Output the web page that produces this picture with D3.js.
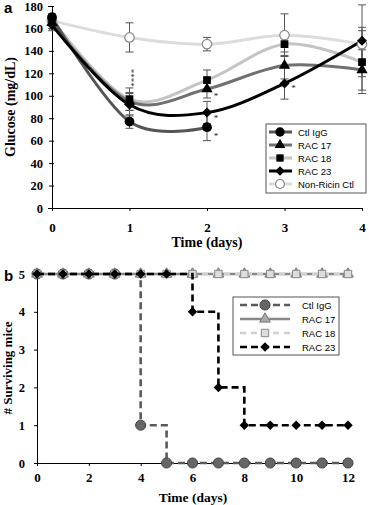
<!DOCTYPE html>
<html>
<head>
<meta charset="utf-8">
<script src="https://cdn.jsdelivr.net/npm/d3@7"></script>
<style>
  body { margin: 0; background: #fff; }
  .tick text { font-family: "Liberation Serif", serif; font-weight: bold; }
</style>
</head>
<body>
<div id="chart"></div>
<script>
// ---- panel a data: glucose ----
const daysA = [0, 1, 2, 3, 4];
const ctlIgG = [170, 77, 72];
const rac17 = [165, 95, 106, 127, 123];
const rac18 = [168, 97, 114, 146, 130];
const rac23 = [163, 92, 85, 111, 149];
const nonRicin = [167, 152, 146, 154, 146];
const errCtl = [3, 6, 12];
const err17 = [5, 8, 8, 12, 18];
const err18 = [4, 10, 9, 10, 28];
const err23 = [5, 10, 10, 14, 32];
const errNon = [3, 13, 6, 19, 15];
const yTicksA = [0, 20, 40, 60, 80, 100, 120, 140, 160, 180];
const xTicksA = [0, 1, 2, 3, 4];
// asterisks: [day, glucose, text]
const starsA = [[1.03, 116, "****"], [2.06, 101, "*"], [2.06, 81, "*"], [2.06, 65, "*"], [3.06, 108, "*"]];

// ---- panel b data: survival ----
const daysB = [0, 1, 2, 3, 4, 5, 6, 7, 8, 9, 10, 11, 12];
const survCtl = [5, 5, 5, 5, 1, 0, 0, 0, 0, 0, 0, 0, 0];
const surv17 = [5, 5, 5, 5, 5, 5, 5, 5, 5, 5, 5, 5, 5];
const surv18 = [5, 5, 5, 5, 5, 5, 5, 5, 5, 5, 5, 5, 5];
const surv23 = [5, 5, 5, 5, 5, 5, 4, 2, 1, 1, 1, 1, 1];
const yTicksB = [0, 1, 2, 3, 4, 5];
const xTicksB = [0, 2, 4, 6, 8, 10, 12];

const svg = d3.select("#chart").append("svg")
    .attr("width", 369).attr("height", 505);

const serif = '"Liberation Serif", "Times New Roman", serif';
const sans = '"Liberation Sans", Arial, sans-serif';

// symbol helper
function marker(g, type, x, y, opt) {
    let sym, rot = 0;
    if (type === "circle") sym = d3.symbolCircle;
    else if (type === "triangle") sym = d3.symbolTriangle;
    else if (type === "square") sym = d3.symbolSquare;
    else { sym = d3.symbolSquare; rot = 45; }
    g.append("path")
        .attr("d", d3.symbol().type(sym).size(opt.size)())
        .attr("transform", `translate(${x},${y}) rotate(${rot})`)
        .attr("fill", opt.fill)
        .attr("stroke", opt.stroke || "none")
        .attr("stroke-width", opt.sw || 1);
}

// =================== PANEL A ===================
const xA = d3.scaleLinear().domain([0, 4]).range([52, 362]);
const yA = d3.scaleLinear().domain([0, 180]).range([208, 6]);

const gA = svg.append("g");

gA.append("g")
    .attr("transform", `translate(0,${yA(0)})`)
    .call(d3.axisBottom(xA).tickValues(xTicksA).tickFormat(d3.format("d")).tickSize(3).tickPadding(12))
    .call(g => g.selectAll("text").attr("font-size", 13))
    .call(g => g.select(".domain").attr("stroke", "#000"));

gA.append("g")
    .attr("transform", `translate(${xA(0)},0)`)
    .call(d3.axisLeft(yA).tickValues(yTicksA).tickSize(4).tickPadding(5))
    .call(g => g.selectAll("text").attr("font-size", 12.5))
    .call(g => g.selectAll(".tick line").attr("x2", 2).attr("x1", -3));

gA.append("text").attr("x", 4).attr("y", 13)
    .attr("font-family", sans).attr("font-weight", "bold").attr("font-size", 15).text("a");

gA.append("text")
    .attr("transform", "translate(15,107) rotate(-90)")
    .attr("text-anchor", "middle")
    .attr("font-family", serif).attr("font-weight", "bold").attr("font-size", 14)
    .text("Glucose (mg/dL)");

gA.append("text").attr("x", 207).attr("y", 247)
    .attr("text-anchor", "middle")
    .attr("font-family", serif).attr("font-weight", "bold").attr("font-size", 14)
    .text("Time (days)");

const seriesA = [
    { name: "Non-Ricin Ctl", vals: nonRicin, err: errNon, line: "#dcdcdc", type: "circle", fill: "#fff", stroke: "#888", size: 70 },
    { name: "RAC 18", vals: rac18, err: err18, line: "#c4c4c4", type: "square", fill: "#000", size: 60 },
    { name: "RAC 17", vals: rac17, err: err17, line: "#707070", type: "triangle", fill: "#000", size: 55 },
    { name: "Ctl IgG", vals: ctlIgG, err: errCtl, line: "#555", type: "circle", fill: "#000", size: 75 },
    { name: "RAC 23", vals: rac23, err: err23, line: "#000", type: "diamond", fill: "#000", size: 50 }
];

const lineA = d3.line().curve(d3.curveCatmullRom.alpha(0))
    .x(d => xA(d[0])).y(d => yA(d[1]));

// error bars
seriesA.forEach(s => {
    s.vals.forEach((v, i) => {
        const x = xA(daysA[i]);
        const lo = yA(v - s.err[i]), hi = yA(v + s.err[i]);
        gA.append("line").attr("x1", x).attr("x2", x).attr("y1", lo).attr("y2", hi)
            .attr("stroke", "#555").attr("stroke-width", 1);
        [lo, hi].forEach(yy => gA.append("line").attr("x1", x - 4).attr("x2", x + 4)
            .attr("y1", yy).attr("y2", yy).attr("stroke", "#555").attr("stroke-width", 1));
    });
});

seriesA.forEach(s => {
    const pts = s.vals.map((v, i) => [daysA[i], v]);
    gA.append("path").attr("d", lineA(pts))
        .attr("fill", "none").attr("stroke", s.line).attr("stroke-width", 3);
});
seriesA.forEach(s => {
    s.vals.forEach((v, i) => marker(gA, s.type, xA(daysA[i]), yA(v),
        { size: s.size, fill: s.fill, stroke: s.stroke, sw: 1.2 }));
});

// significance asterisks (the day-1 stack is one rotated string)
starsA.forEach(d => {
    const x = xA(d[0]) + 2, y = yA(d[1]);
    const t = gA.append("text")
        .attr("font-family", serif).attr("font-size", 9).attr("fill", "#222")
        .text(d[2]);
    if (d[2].length > 1) t.attr("text-anchor", "middle").attr("transform", `translate(${x + 3},${y}) rotate(-90)`);
    else t.attr("x", x).attr("y", y + 4);
});

// legend a
const legA = gA.append("g");
legA.append("rect").attr("x", 266).attr("y", 124).attr("width", 100).attr("height", 69)
    .attr("fill", "#fff").attr("stroke", "#555").attr("stroke-width", 1);
const legOrderA = ["Ctl IgG", "RAC 17", "RAC 18", "RAC 23", "Non-Ricin Ctl"];
legOrderA.forEach((n, i) => {
    const s = seriesA.find(d => d.name === n);
    const y = 132 + i * 13;
    legA.append("line").attr("x1", 269).attr("x2", 292).attr("y1", y).attr("y2", y)
        .attr("stroke", s.line).attr("stroke-width", 3);
    marker(legA, s.type, 280, y, { size: s.size * 0.9, fill: s.fill, stroke: s.stroke, sw: 1.2 });
    legA.append("text").attr("x", 298).attr("y", y + 3.5)
        .attr("font-family", sans).attr("font-size", 9.5).text(n);
});

// =================== PANEL B ===================
const xB = d3.scaleLinear().domain([0, 12]).range([37, 348]);
const yB = d3.scaleLinear().domain([0, 5]).range([463, 274]);
const gB = svg.append("g");

gB.append("g")
    .attr("transform", `translate(0,${yB(0)})`)
    .call(d3.axisBottom(xB).tickValues(xTicksB).tickSize(3).tickPadding(7))
    .call(g => g.selectAll("text").attr("font-size", 13));

gB.append("g")
    .attr("transform", `translate(${xB(0)},0)`)
    .call(d3.axisLeft(yB).tickValues(yTicksB).tickFormat(d3.format("d")).tickSize(3).tickPadding(9))
    .call(g => g.selectAll("text").attr("font-size", 12.5));

gB.append("text").attr("x", 4).attr("y", 281)
    .attr("font-family", sans).attr("font-weight", "bold").attr("font-size", 15).text("b");

gB.append("text")
    .attr("transform", "translate(12,368) rotate(-90)")
    .attr("text-anchor", "middle")
    .attr("font-family", serif).attr("font-weight", "bold").attr("font-size", 13)
    .text("# Surviving mice");

gB.append("text").attr("x", 193).attr("y", 502)
    .attr("text-anchor", "middle")
    .attr("font-family", serif).attr("font-weight", "bold").attr("font-size", 13.5)
    .text("Time (days)");

const seriesB = [
    { name: "Ctl IgG", vals: survCtl, line: "#5a5a5a", dash: "7,4", type: "circle", fill: "#666", stroke: "#444", size: 80 },
    { name: "RAC 17", vals: surv17, line: "#888", dash: null, type: "triangle", fill: "#aaa", stroke: "#777", size: 50 },
    { name: "RAC 18", vals: surv18, line: "#d0d0d0", dash: "6,5", type: "square", fill: "#ddd", stroke: "#888", size: 55 },
    { name: "RAC 23", vals: surv23, line: "#000", dash: "7,4", type: "diamond", fill: "#000", stroke: null, size: 45 }
];

const lineB = d3.line().curve(d3.curveStepAfter)
    .x(d => xB(d[0])).y(d => yB(d[1]));

seriesB.forEach(s => {
    const pts = s.vals.map((v, i) => [daysB[i], v]);
    gB.append("path").attr("d", lineB(pts))
        .attr("fill", "none").attr("stroke", s.line).attr("stroke-width", 2.6)
        .attr("stroke-dasharray", s.dash);
    s.vals.forEach((v, i) => marker(gB, s.type, xB(daysB[i]), yB(v),
        { size: s.size, fill: s.fill, stroke: s.stroke, sw: 1 }));
});

// legend b
const legB = gB.append("g");
legB.append("rect").attr("x", 233).attr("y", 297).attr("width", 106).attr("height", 58)
    .attr("fill", "#fff").attr("stroke", "#555").attr("stroke-width", 1);
seriesB.forEach((s, i) => {
    const y = 305 + i * 14;
    legB.append("line").attr("x1", 240).attr("x2", 290).attr("y1", y).attr("y2", y)
        .attr("stroke", s.line).attr("stroke-width", 2.6).attr("stroke-dasharray", s.dash);
    marker(legB, s.type, 265, y, { size: s.size, fill: s.fill, stroke: s.stroke, sw: 1 });
    legB.append("text").attr("x", 302).attr("y", y + 3.5)
        .attr("font-family", sans).attr("font-size", 9.5).text(s.name);
});
</script>
</body>
</html>
